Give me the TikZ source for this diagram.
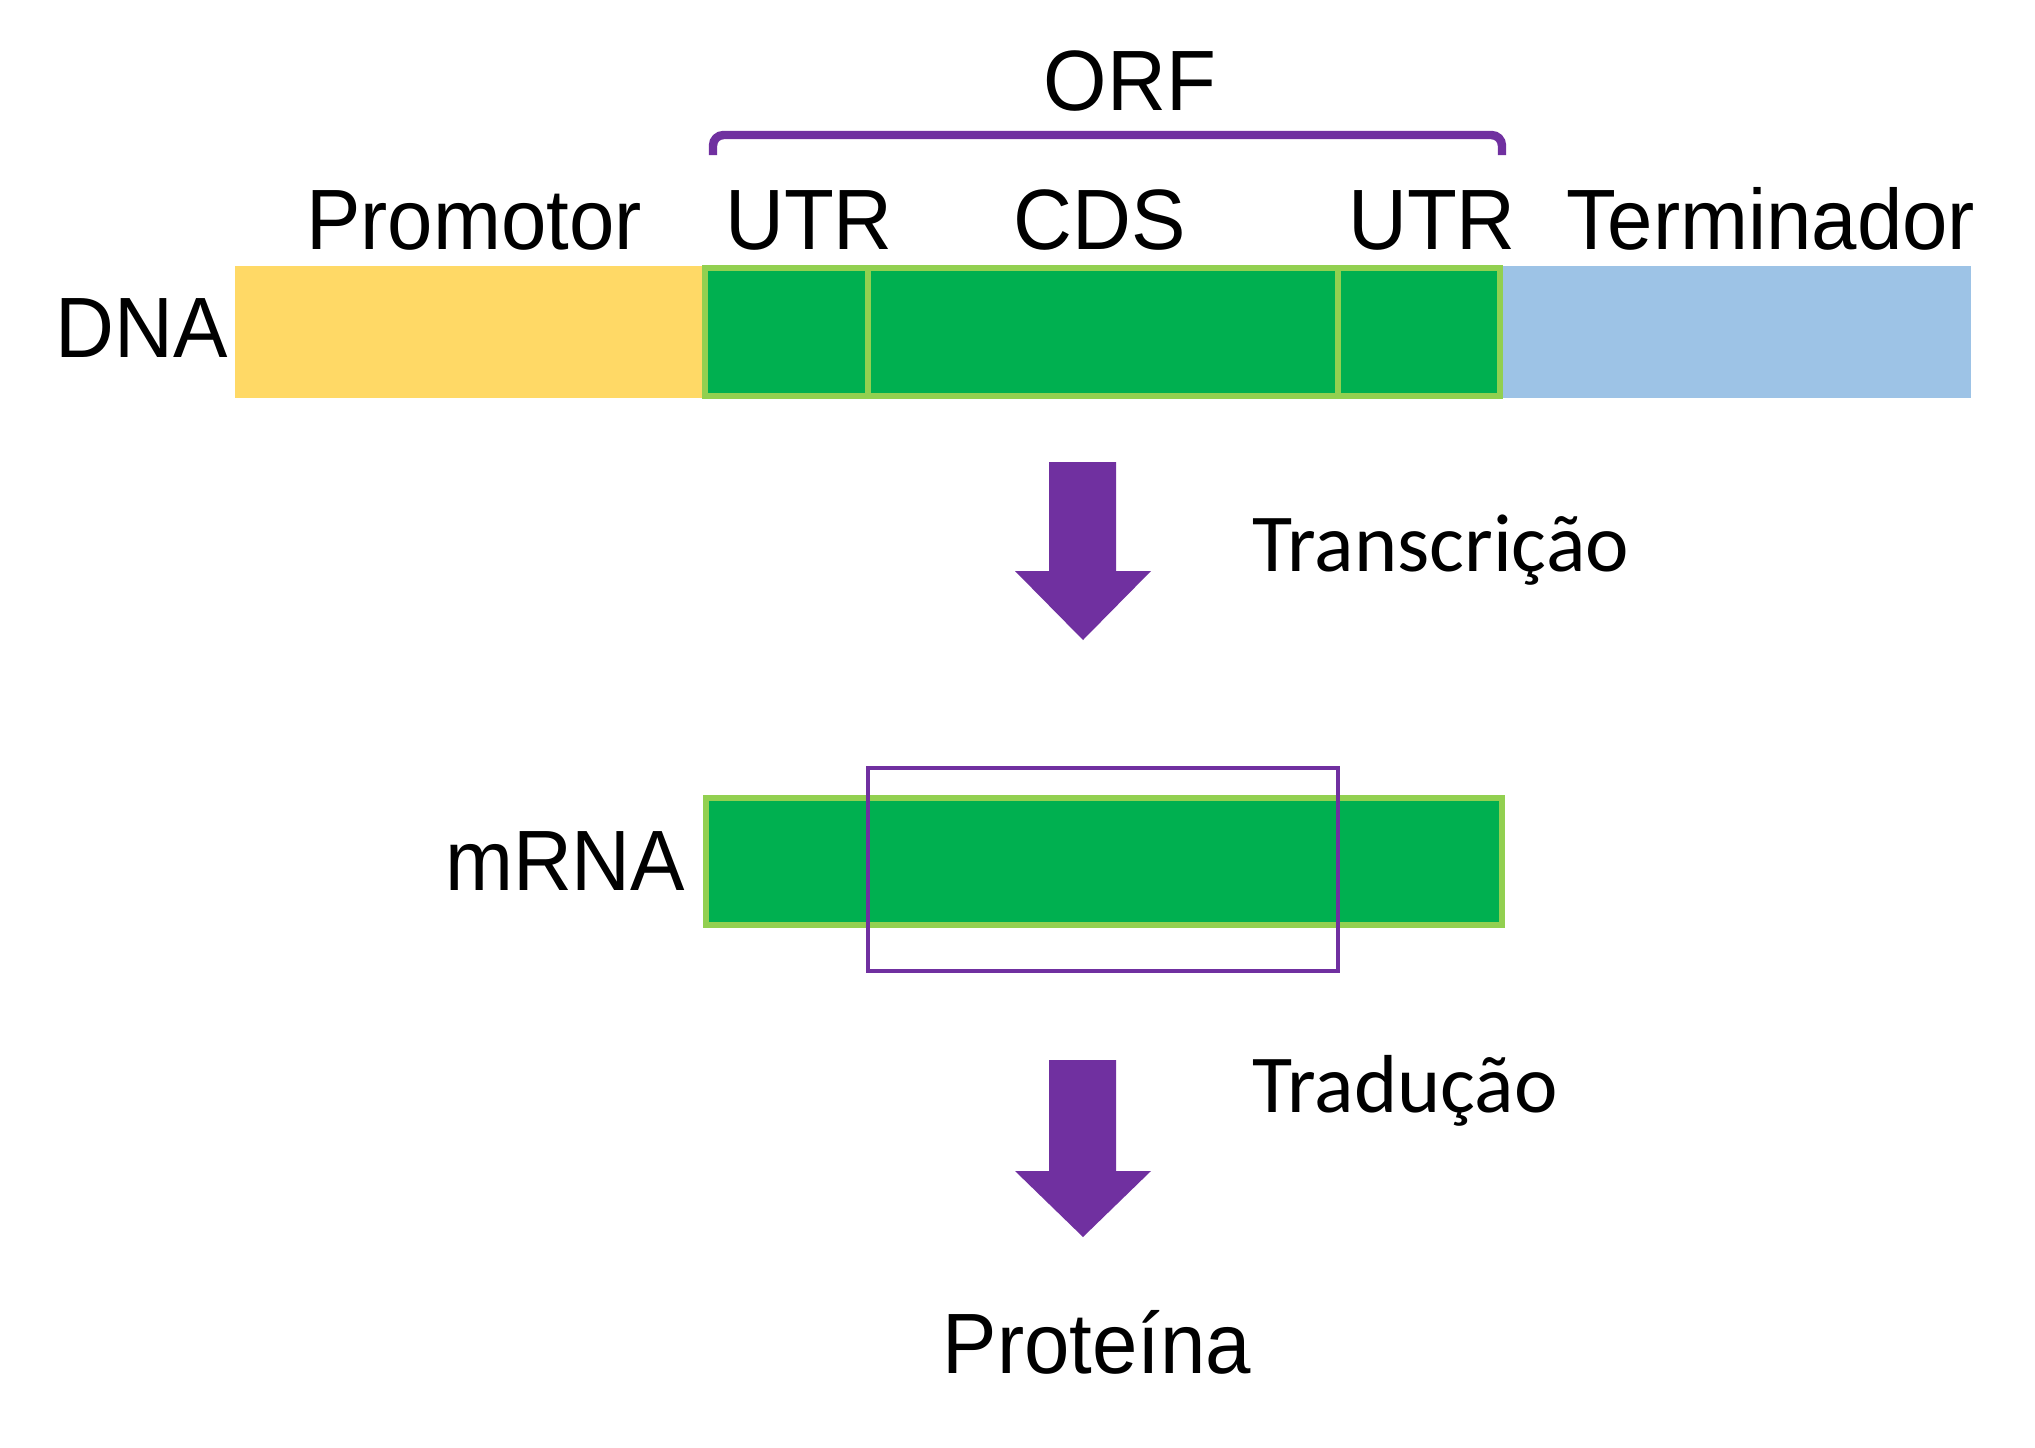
\documentclass[tikz,border=0pt]{standalone}
\usepackage{fontspec}
\setmainfont{Liberation Sans}
\newfontfamily\calfont{Carlito}
\definecolor{promy}{HTML}{FFD966}
\definecolor{termb}{HTML}{9DC3E6}
\definecolor{cdsg}{HTML}{00B050}
\definecolor{lgreen}{HTML}{92D050}
\definecolor{purp}{HTML}{7030A0}
\newcommand{\tallt}[1]{\scalebox{1}[1.05]{#1}}
\begin{document}
\begin{tikzpicture}[x=0.01cm,y=-0.01cm,
  lbl/.style={inner sep=0pt,font=\fontsize{23.2pt}{27pt}\selectfont},
  clbl/.style={inner sep=0pt,font=\calfont\fontsize{23.4pt}{27pt}\selectfont},
  seg/.style={line width=1.5pt,draw=lgreen,fill=cdsg},
  bigarrow/.style={fill=purp,draw=none}]
\useasboundingbox[fill=white] (0,0) rectangle (2035,1448);
% DNA
\fill[promy] (235,266) rectangle (705,398);
\fill[termb] (1500,266) rectangle (1971,398);
\draw[seg] (705,268) rectangle (1500,396);
\draw[line width=1.5pt,draw=lgreen] (868,268) -- (868,396);
\draw[line width=1.5pt,draw=lgreen] (1338,268) -- (1338,396);
% bracket
\draw[purp,line width=2.4pt,rounded corners=3pt] (713,155) -- (713,135) -- (1502,135) -- (1502,155);
% labels
\node[lbl,anchor=base] (orf) at (1130,110) {\tallt{ORF}};
\node[lbl,anchor=base] (prom) at (474,249) {\tallt{Promotor}};
\node[lbl,anchor=base] (utr1) at (809,249) {\tallt{UTR}};
\node[lbl,anchor=base] (cds) at (1100,249) {\tallt{CDS}};
\node[lbl,anchor=base] (utr2) at (1432,249) {\tallt{UTR}};
\node[lbl,anchor=base] (term) at (1771,249) {\tallt{Terminador}};
\node[lbl,anchor=base west] (dna) at (55,357) {\tallt{DNA}};
% arrow 1
\fill[bigarrow] (1049,462) -- (1116,462) -- (1116,571) -- (1151,571) -- (1083,640) -- (1015,571) -- (1049,571) -- cycle;
\node[clbl,anchor=base west] (transc) at (1252,571) {Transcrição};
% mRNA
\draw[seg] (706,798) rectangle (1502,925);
\draw[purp,line width=1pt] (868,768) rectangle (1338,971);
\node[lbl,anchor=base east] (mrna) at (686,890) {\tallt{mRNA}};
% arrow 2
\fill[bigarrow] (1049,1060) -- (1116,1060) -- (1116,1171) -- (1151,1171) -- (1083,1237) -- (1015,1171) -- (1049,1171) -- cycle;
\node[clbl,anchor=base west] (trad) at (1252,1112) {Tradução};
\node[lbl,anchor=base] (prot) at (1097,1373) {\tallt{Proteína}};
\end{tikzpicture}
\end{document}
